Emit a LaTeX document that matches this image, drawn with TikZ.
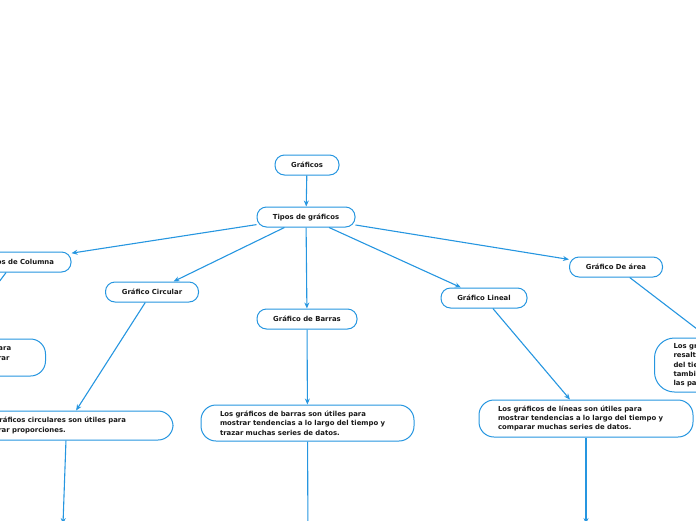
\documentclass[tikz,border=0pt]{standalone}
\usepackage{fontspec}
\setmainfont{DejaVu Sans}
\usetikzlibrary{arrows.meta}
\definecolor{mblue}{RGB}{38,150,224}
\definecolor{mtext}{RGB}{25,25,25}
\begin{document}
\begin{tikzpicture}[x=1pt,y=-1pt,
  topic/.style={draw=mblue, line width=1pt, rounded corners=9.5pt, fill=white,
    text=mtext, font=\fontsize{6.9}{9}\selectfont\bfseries,
    minimum height=20pt, inner xsep=0pt, inner ysep=0pt},
  desc/.style={draw=mblue, line width=1pt, rounded corners=15pt, fill=white,
    text=mtext, font=\fontsize{6.9}{9.3}\selectfont\bfseries,
    align=left, inner xsep=19pt, inner ysep=0pt},
  conn/.style={draw=mblue, line width=1.1pt, -{Stealth[length=6pt,width=5pt]}}]
\useasboundingbox (0,0) rectangle (696,520);
\clip (0,0) rectangle (696,520);

% topic nodes
\node[topic, minimum width=64pt] (graficos) at (307,165) {Gráficos};
\node[topic, minimum width=98pt] (tipos) at (306,217) {Tipos de gráficos};
\node[topic, minimum width=114pt] (columna) at (14,262) {Gráficos de Columna};
\node[topic, minimum width=93pt] (circular) at (152,292) {Gráfico Circular};
\node[topic, minimum width=100pt] (barras) at (307,319) {Gráfico de Barras};
\node[topic, minimum width=86pt] (lineal) at (484,298) {Gráfico Lineal};
\node[topic, minimum width=93pt] (area) at (616,267) {Gráfico De área};

% description nodes
\node[desc, text width=169pt, minimum height=37pt, anchor=west] (coltext) at (-162,357.5)
  {Los gráficos de columna son útiles para\\mostrar datos en el tiempo o comparar\\elementos.};
\node[desc, text width=175pt, minimum height=29pt] (circtext) at (66.5,425.5)
  {Los gráficos circulares son útiles para\\mostrar proporciones.};
\node[desc, text width=175pt, minimum height=36pt] (barrastext) at (307.5,423)
  {Los gráficos de barras son útiles para\\mostrar tendencias a lo largo del tiempo y\\trazar muchas series de datos.};
\node[desc, text width=176pt, minimum height=37pt] (linealtext) at (586,418.5)
  {Los gráficos de líneas son útiles para\\mostrar tendencias a lo largo del tiempo y\\comparar muchas series de datos.};
\node[desc, minimum height=54pt, rounded corners=20pt, anchor=west] (areatext) at (654,365)
  {Los gráficos de área pueden\\resaltar la magnitud del cambio a lo\\del tiempo y\\también muestran la relación de\\las partes con un todo.};

% off-page targets
\coordinate (circdown) at (63,524);
\coordinate (barrasdown) at (308,545);
\coordinate (linealdown) at (586,524);

% connectors
\draw[conn] (graficos) -- (tipos);
\draw[conn] (tipos) -- (columna);
\draw[conn] (tipos) -- (circular);
\draw[conn] (tipos) -- (barras);
\draw[conn] (tipos) -- (lineal);
\draw[conn] (tipos) -- (area);
\draw[conn] (columna) -- (coltext);
\draw[conn] (circular) -- (circtext);
\draw[conn] (barras) -- (barrastext);
\draw[conn] (lineal) -- (linealtext);
\draw[conn] (area) -- (areatext);
\draw[conn] (circtext) -- (circdown);
\draw[conn] (barrastext) -- (barrasdown);
\draw[conn] (linealtext) -- (linealdown);
\end{tikzpicture}
\end{document}
